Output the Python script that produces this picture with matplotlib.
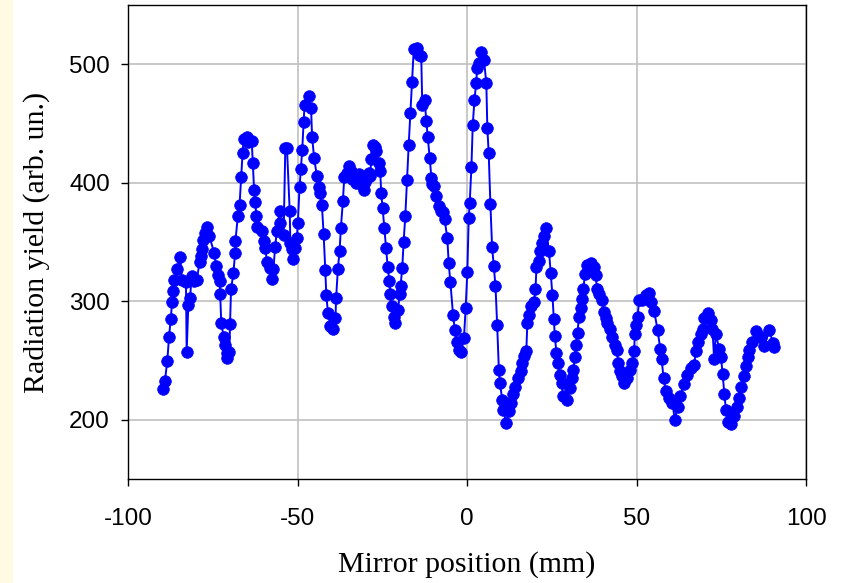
import matplotlib
matplotlib.use("Agg")
import matplotlib.pyplot as plt
from matplotlib.patches import Rectangle

plt.rcParams["axes.unicode_minus"] = False

# Mirror scan: position (mm) and measured radiation yield (arb. un.)
position_mm = [
    -89.6, -89.1, -88.4, -87.9, -87.4, -87.0, -86.6, -86.4, -85.6, -84.6,
    -84.1, -82.9, -82.7, -82.2, -81.7, -81.2, -80.5, -79.7, -78.9, -78.5,
    -78.2, -77.8, -77.3, -76.6, -76.0, -74.6, -74.0, -73.5, -73.0, -72.8,
    -72.5, -71.8, -71.3, -70.8, -70.7, -70.1, -69.9, -69.6, -68.9, -68.4,
    -68.3, -67.6, -67.1, -66.6, -66.2, -65.9, -64.8, -64.5, -63.5, -63.2,
    -62.8, -62.4, -62.2, -61.8, -60.5, -60.0, -59.5, -59.0, -58.0, -57.5,
    -57.1, -56.6, -56.1, -55.3, -55.1, -54.1, -53.6, -53.1, -52.3, -52.1,
    -51.6, -51.3, -50.7, -50.2, -49.9, -49.4, -49.0, -48.6, -48.2, -47.9,
    -46.7, -46.0, -45.7, -45.1, -44.3, -43.8, -43.3, -42.8, -42.3, -41.8,
    -41.5, -41.0, -40.3, -39.5, -38.8, -38.6, -38.1, -37.6, -37.2, -36.6,
    -36.2, -35.5, -34.9, -34.3, -33.9, -33.4, -32.8, -32.0, -31.5, -31.0,
    -30.5, -30.0, -29.5, -29.0, -28.5, -28.3, -27.7, -27.0, -26.7, -26.1,
    -25.6, -25.3, -24.9, -24.4, -23.9, -23.4, -22.9, -22.6, -22.1, -21.6,
    -21.1, -20.3, -19.9, -19.6, -19.1, -18.7, -18.2, -17.7, -17.2, -16.7,
    -16.2, -15.7, -14.7, -14.2, -13.5, -13.2, -12.5, -12.0, -11.6, -11.0,
    -10.5, -10.3, -9.6, -9.1, -8.3, -7.8, -7.0, -6.6, -5.8, -5.4,
    -4.9, -4.1, -3.6, -3.0, -2.4, -1.8, -0.9, -0.4, 0.1, 0.5,
    0.8, 1.3, 1.7, 2.2, 2.7, 3.0, 3.5, 4.0, 5.0, 5.7,
    6.0, 6.4, 6.9, 7.4, 7.9, 8.4, 8.9, 9.4, 9.7, 10.4,
    10.7, 11.6, 12.3, 13.1, 13.5, 14.3, 15.1, 15.8, 16.3, 16.8,
    17.5, 17.8, 18.3, 18.8, 19.7, 20.2, 20.5, 21.2, 21.5, 22.2,
    22.7, 23.2, 24.2, 24.7, 25.2, 25.6, 25.9, 26.4, 26.8, 27.3,
    27.9, 28.3, 29.4, 30.4, 30.9, 31.4, 31.8, 32.1, 32.6, 33.0,
    33.5, 33.8, 34.3, 34.8, 35.5, 36.5, 37.5, 38.0, 38.3, 38.9,
    39.9, 40.4, 40.9, 41.4, 42.2, 42.9, 43.6, 44.2, 44.6, 45.1,
    45.8, 46.3, 47.3, 48.1, 48.8, 49.3, 49.5, 49.8, 50.3, 50.8,
    51.5, 52.7, 53.7, 54.2, 55.2, 56.2, 57.0, 57.4, 58.0, 58.6,
    59.6, 60.6, 61.3, 62.1, 62.9, 64.0, 65.0, 66.0, 67.0, 67.5,
    68.2, 69.0, 69.5, 70.0, 71.1, 71.9, 72.4, 72.9, 73.4, 74.4,
    74.9, 75.4, 75.9, 76.4, 77.0, 77.8, 78.8, 79.6, 80.3, 80.8,
    81.6, 82.3, 82.8, 83.3, 84.0, 85.3, 86.7, 87.7, 89.2, 90.2,
    90.5,
]

radiation_yield = [
    226, 233, 250, 270, 285, 299, 309, 318, 327, 337,
    318, 316, 257, 297, 303, 321, 317, 318, 333, 338,
    344, 352, 358, 363, 355, 341, 330, 322, 317, 306,
    282, 270, 263, 256, 252, 257, 281, 310, 324, 341,
    351, 372, 381, 405, 425, 437, 439, 434, 435, 417,
    394, 384, 372, 363, 359, 351, 345, 333, 328, 319,
    327, 346, 359, 376, 366, 356, 429, 429, 376, 349,
    344, 336, 345, 353, 366, 396, 412, 428, 451, 466,
    473, 463, 439, 421, 406, 396, 391, 381, 357, 326,
    305, 290, 279, 277, 286, 303, 327, 342, 362, 385,
    405, 408, 414, 410, 403, 406, 400, 407, 402, 398,
    394, 401, 404, 408, 406, 420, 432, 430, 427, 417,
    410, 391, 379, 362, 345, 329, 317, 306, 296, 287,
    282, 293, 306, 313, 328, 350, 372, 402, 432, 459,
    485, 513, 514, 508, 507, 466, 470, 452, 439, 421,
    404, 399, 397, 389, 380, 376, 375, 369, 353, 332,
    316, 288, 276, 266, 259, 257, 269, 294, 325, 370,
    383, 413, 449, 470, 484, 497, 501, 510, 504, 484,
    446, 425, 382, 346, 330, 313, 280, 242, 231, 217,
    208, 197, 207, 214, 222, 228, 235, 241, 248, 254,
    258, 282, 288, 296, 299, 310, 329, 334, 342, 349,
    355, 362, 342, 324, 305, 285, 271, 256, 248, 238,
    231, 220, 217, 227, 235, 242, 253, 263, 273, 287,
    294, 302, 310, 323, 331, 332, 329, 322, 310, 306,
    301, 291, 286, 282, 277, 270, 263, 259, 248, 241,
    237, 231, 235, 242, 248, 258, 272, 280, 287, 301,
    301, 305, 307, 299, 292, 276, 260, 251, 235, 224,
    218, 214, 200, 211, 220, 230, 238, 244, 246, 258,
    266, 272, 277, 286, 290, 284, 277, 251, 272, 260,
    253, 239, 222, 208, 198, 196, 203, 211, 218, 228,
    237, 245, 253, 259, 266, 275, 270, 262, 276, 265,
    261,
]

x_ticks = [-100, -50, 0, 50, 100]
y_ticks = [200, 300, 400, 500]

fig = plt.figure(figsize=(8.44, 5.83), dpi=100)
fig.patch.set_facecolor("white")

# pale cream strip along the left edge of the slide
fig.patches.append(Rectangle((0, 0), 13 / 844, 1, transform=fig.transFigure,
                             facecolor="#fffbe3", edgecolor="none", zorder=0))

ax = fig.add_axes([128 / 844, 1 - 479 / 583, 678 / 844, 474 / 583])
ax.set_facecolor("white")

ax.plot(position_mm, radiation_yield, color="#0000ff", linewidth=1.4,
        marker="o", markersize=8.4, markerfacecolor="#0000ff",
        markeredgecolor="#0000ff", markeredgewidth=0.5, zorder=3)

ax.set_xlim(-100, 100)
ax.set_ylim(150, 550)
ax.set_xticks(x_ticks)
ax.set_yticks(y_ticks)
ax.grid(True, color="#c0c0c0", linewidth=1.2)
ax.set_axisbelow(True)

for side in ("left", "bottom", "top", "right"):
    ax.spines[side].set_color("black")
    ax.spines[side].set_linewidth(1.0)

ax.tick_params(axis="both", direction="out", length=5, width=1, color="black",
               labelsize=17.5)
ax.tick_params(axis="y", pad=8)
ax.tick_params(axis="x", pad=16)
for lab in ax.get_xticklabels() + ax.get_yticklabels():
    lab.set_fontfamily("Liberation Sans")

ax.set_xlabel("Mirror position (mm)", fontfamily="Liberation Serif",
              fontsize=21.5, labelpad=15)
ax.set_ylabel("Radiation yield (arb. un.)", fontfamily="Liberation Serif",
              fontsize=21.5, labelpad=14)

fig.savefig("out.png", dpi=100)
